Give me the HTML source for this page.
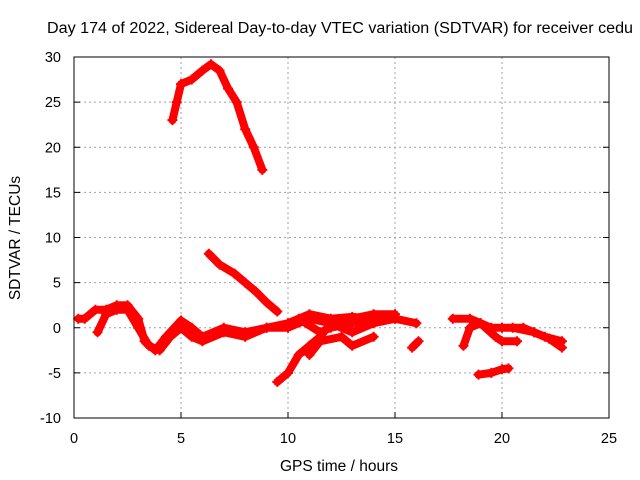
<!DOCTYPE html>
<html><head><meta charset="utf-8"><style>
body{margin:0;background:#fff}
svg{display:block;font-family:"Liberation Sans",sans-serif}
</style></head><body>
<svg id="chart" width="640" height="480">
<text x="47" y="33" font-size="15.5" textLength="586" lengthAdjust="spacingAndGlyphs">Day 174 of 2022, Sidereal Day-to-day VTEC variation (SDTVAR) for receiver cedu</text>
<g id="grid"></g><g id="series"></g><g id="axes"></g>
<text x="339" y="471" text-anchor="middle" font-size="15.5">GPS time / hours</text>
<text transform="translate(20,238) rotate(-90)" text-anchor="middle" font-size="15.5">SDTVAR / TECUs</text>
</svg>
<script>
const xTicks=[0,5,10,15,20,25];
const yTicks=[-10,-5,0,5,10,15,20,25,30];
const trackA=[[4.6,23],[4.8,25],[5,27],[5.5,27.5],[6,28.5],[6.4,29.2],[6.8,28.5],[7.2,26.5],[7.6,25],[8,22],[8.4,20],[8.8,17.5]];
const trackB=[[6.3,8.2],[6.8,7],[7.5,6],[8,5],[8.5,4],[9,2.8],[9.5,1.8]];
const trackC=[[0.2,1],[0.5,1],[1,2],[1.5,2],[2,2.5],[2.5,2.5],[3,1],[3.3,-1.5],[3.8,-2.5],[4.3,-1],[5,0.8],[5.5,0],[6,-1],[7,0],[8,-0.5],[9,0],[10,0.5],[11,1.5],[12,1],[13,1.2],[14,1],[15,1],[16,0.5]];
const trackD=[[1.1,-0.5],[1.5,1.5],[2,2],[2.5,2],[3,0],[3.5,-2],[4,-2.5],[4.5,-1],[5,0],[5.5,-1],[6,-1.5],[7,-0.5],[8,-1],[9,0],[10,0],[11,1],[12,0.5],[13,-0.5],[14,0.5],[15,1]];
const trackE=[[9.5,-6],[10,-5],[10.5,-3],[11,-2],[11.5,-1],[12,0.5],[13,1],[14,1.5],[15,1.5]];
const trackF=[[10.5,1],[11.5,-0.5],[12,0],[13,0.5],[14,1]];
const trackG=[[11,-3],[11.5,-1.5],[12.5,-1],[13,-2],[14,-1]];
const trackH=[[15.8,-2.2],[16.1,-1.5]];
const trackI=[[17.7,1],[18.5,1],[19,0.5],[19.5,0],[20,0],[21,0],[21.5,-0.5],[22,-1],[22.8,-1.5]];
const trackJ=[[18.2,-2],[18.5,0],[19,0.5],[19.7,-1],[20,-1.5],[20.7,-1.5]];
const trackK=[[18.9,-5.2],[19.5,-5],[20,-4.6],[20.3,-4.5]];
const trackL=[[20.5,0],[21.5,-0.5],[22.2,-1.2],[22.8,-2.2]];
const tracks=[trackA,trackB,trackC,trackD,trackE,trackF,trackG,trackH,trackI,trackJ,trackK,trackL];
const X0=74,X1=609,Y0=418,Y1=57;
const sx=v=>X0+(v-0)/25*(X1-X0);
const sy=v=>Y0-(v+10)/40*(Y0-Y1);
const NS="http://www.w3.org/2000/svg";
function mk(t,a,p){const e=document.createElementNS(NS,t);for(const k in a)e.setAttribute(k,a[k]);p.appendChild(e);return e;}
const grid=document.getElementById('grid'),axes=document.getElementById('axes'),ser=document.getElementById('series');
xTicks.forEach(t=>{
  if(t>0&&t<25){const l=mk('line',{x1:sx(t),x2:sx(t),y1:Y1,y2:Y0,stroke:'#a0a0a0','stroke-dasharray':'2,3'},grid);
  
  }
  const tk=mk('line',{x1:sx(t),x2:sx(t),y1:Y0,y2:Y0-6,stroke:'#000'},axes);
  
  
  const tx=mk('text',{x:sx(t),y:Y0+25,'text-anchor':'middle','font-size':14.5},axes);tx.textContent=t;
  
  
});
yTicks.forEach(t=>{
  if(t>-10&&t<30){const l=mk('line',{x1:X0,x2:X1,y1:sy(t),y2:sy(t),stroke:'#a0a0a0','stroke-dasharray':'2,3'},grid);
  
  }
  const tk=mk('line',{x1:X0,x2:X0+6,y1:sy(t),y2:sy(t),stroke:'#000'},axes);
  
  
  const tk2=mk('line',{x1:X1,x2:X1-6,y1:sy(t),y2:sy(t),stroke:'#000'},axes);
  
  
  const tx=mk('text',{x:X0-13,y:sy(t)+5,'text-anchor':'end','font-size':14.5},axes);tx.textContent=t;
  
  
});
const fr=mk('rect',{x:X0,y:Y1,width:X1-X0,height:Y0-Y1,fill:'none',stroke:'#000','stroke-width':1},axes);


tracks.forEach(tr=>{
  const pl=mk('polyline',{points:tr.map(p=>sx(p[0])+','+sy(p[1])).join(' '),fill:'none',stroke:'#ff0000','stroke-width':8,'stroke-linejoin':'round','stroke-linecap':'round'},ser);
  
  
  tr.forEach(p=>{
    const x=sx(p[0]),y=sy(p[1]);
    const m=mk('path',{d:`M${x-5},${y}H${x+5}M${x},${y-5}V${y+5}`,stroke:'#ff0000','stroke-width':2},ser);
    
    
  });
});
</script>
</body></html>
